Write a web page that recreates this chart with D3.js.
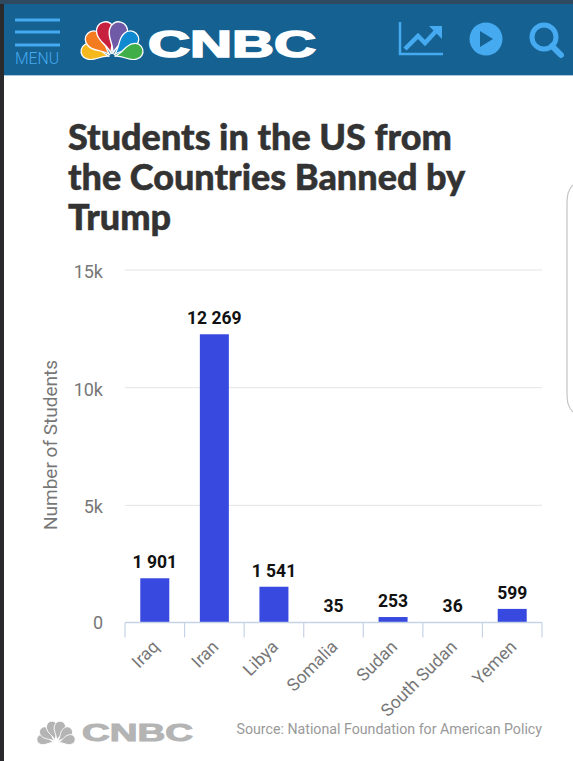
<!DOCTYPE html>
<html><head><meta charset="utf-8">
<script src="https://cdn.jsdelivr.net/npm/d3@7"></script>
<style>html,body{margin:0;padding:0;background:#fff;overflow:hidden}svg{display:block}</style>
</head><body><svg id="c" width="573" height="761"></svg>
<script>
const categories=["Iraq","Iran","Libya","Somalia","Sudan","South Sudan","Yemen"];
const students=[1901,12269,1541,35,253,36,599];
const valueLabels=["1 901","12 269","1 541","35","253","36","599"];
const yTicks=[0,5000,10000,15000];
const titleLines=["Students in the US from","the Countries Banned by","Trump"];
const feathers=[["#f6b91d",-76],["#f47b20",-46],["#c8203f",-14],["#6e5aa6",14],["#0f8ad0",46],["#3fae49",76]];

const svg=d3.select("#c");
const sans="Roboto, sans-serif";
// page chrome
svg.append("rect").attr("width",573).attr("height",761).attr("fill","#fff");
svg.append("rect").attr("width",4).attr("height",761).attr("fill","#2a2a2c");
svg.append("rect").attr("width",573).attr("height",4).attr("fill","#2f4a60");
svg.append("rect").attr("x",4).attr("y",4).attr("width",569).attr("height",71).attr("fill","#156192");
svg.append("rect").attr("x",4).attr("y",75).attr("width",569).attr("height",1).attr("fill","#a9c9d8");
const lb="#45aaf0";
[20,32,45].forEach(y=>svg.append("rect").attr("x",15).attr("y",y-1.5).attr("width",45).attr("height",3).attr("fill",lb));
svg.append("text").attr("x",15).attr("y",64).attr("font-family",sans).attr("font-weight",300).attr("font-size",17).attr("fill",lb).attr("textLength",44).attr("lengthAdjust","spacingAndGlyphs").text("MENU");
// peacock
const feather="M0 -3C-1 -13 -10 -18 -9 -27A9 9 0 0 1 9 -27C10 -18 1 -13 0 -3Z";
const peacock=(g,colorOf,stroke)=>{
  feathers.forEach(([c,a])=>{
    const k=Math.abs(a)>60?0.88:Math.abs(a)>30?0.94:1;
    g.append("path").attr("d",feather)
     .attr("fill",colorOf(c)).attr("stroke",stroke).attr("stroke-width",1.4)
     .attr("transform",`rotate(${a}) scale(${k})`);
  });
};
peacock(svg.append("g").attr("transform","translate(112,57)"),c=>c,"#fff");
svg.append("text").attr("x",148).attr("y",57).attr("font-family","'Liberation Sans',sans-serif").attr("font-weight",700)
  .attr("font-size",36).attr("fill","#fff").attr("stroke","#fff").attr("stroke-width",1.6).attr("textLength",168).attr("lengthAdjust","spacingAndGlyphs").text("CNBC");
// header icons
svg.append("path").attr("d","M400 22V54H443").attr("fill","none").attr("stroke",lb).attr("stroke-width",2.5);
svg.append("path").attr("d","M405 49L418 36L425 43L437 30").attr("fill","none").attr("stroke",lb).attr("stroke-width",4.5);
svg.append("path").attr("d","M429 26H442V39Z").attr("fill",lb);
svg.append("circle").attr("cx",486).attr("cy",39).attr("r",16.5).attr("fill",lb);
svg.append("path").attr("d","M480 31L493 39L480 47Z").attr("fill","#156192");
svg.append("circle").attr("cx",544).attr("cy",37).attr("r",12).attr("fill","none").attr("stroke",lb).attr("stroke-width",5);
svg.append("path").attr("d","M552 46L561 55").attr("stroke",lb).attr("stroke-width",6).attr("stroke-linecap","round");
// side card edge
svg.append("path").attr("d","M573 185C568 190 567 195 567 205V392C567 402 568 407 573 412").attr("fill","none").attr("stroke","#c4c4c4").attr("stroke-width",1.2);
// title
svg.append("g").selectAll("text").data(titleLines).join("text")
  .attr("x",68).attr("y",(d,i)=>150+i*40)
  .attr("font-family","Lato, sans-serif").attr("font-weight",900).attr("font-size",36).attr("fill","#333")
  .attr("stroke","#333").attr("stroke-width",0.5)
  .text(d=>d);
// chart
const x=d3.scaleBand().domain(categories).range([125,542]);
const y=d3.scaleLinear().domain([0,15000]).range([623,270]);
svg.append("g").selectAll("line").data(yTicks.slice(1)).join("line")
  .attr("x1",125).attr("x2",542).attr("y1",d=>y(d)).attr("y2",d=>y(d)).attr("stroke","#e4e4e4");
svg.append("g").selectAll("text").data(yTicks).join("text")
  .attr("x",103).attr("y",d=>y(d)+(d?8:6)).attr("text-anchor","end")
  .attr("font-family",sans).attr("font-size",18).attr("fill","#777")
  .text(d=>d?d/1000+"k":"0");
svg.append("text").attr("transform","translate(57,445) rotate(-90)").attr("text-anchor","middle")
  .attr("font-family",sans).attr("font-size",19).attr("fill","#777").text("Number of Students");
const barW=29;
const bx=d=>x(d)+x.bandwidth()/2-barW/2;
svg.append("g").selectAll("rect").data(categories).join("rect")
  .attr("x",bx).attr("width",barW)
  .attr("y",(d,i)=>y(students[i])).attr("height",(d,i)=>y(0)-y(students[i])).attr("fill","#3749de");
svg.append("g").selectAll("text").data(categories).join("text")
  .attr("x",d=>x(d)+x.bandwidth()/2).attr("y",(d,i)=>y(students[i])-10).attr("text-anchor","middle")
  .attr("font-family",sans).attr("font-weight",700).attr("font-size",17.5).attr("fill","#111")
  .text((d,i)=>valueLabels[i]);
const ax=svg.append("g").attr("transform","translate(0,622.5)");
ax.append("line").attr("x1",125).attr("x2",542).attr("stroke","#c6d3e6").attr("stroke-width",1.5);
const edges=categories.map(d=>x(d)).concat([542]);
ax.selectAll("line.t").data(edges).join("line").attr("class","t").attr("x1",d=>d).attr("x2",d=>d).attr("y1",0).attr("y2",15).attr("stroke","#c6d3e6").attr("stroke-width",1.2);
ax.selectAll("text").data(categories).join("text")
  .attr("transform",d=>`translate(${x(d)+x.bandwidth()/2+1},21) rotate(-45)`)
  .attr("text-anchor","end").attr("font-family",sans).attr("font-size",17.5).attr("fill","#777")
  .attr("dy","0.35em").text(d=>d);
// footer
peacock(svg.append("g").attr("transform","translate(56,743) scale(0.62)"),()=>"#b4b4b4","#fff");
svg.append("text").attr("x",82).attr("y",741).attr("font-family","'Liberation Sans',sans-serif").attr("font-weight",700)
  .attr("font-size",24).attr("fill","#b4b4b4").attr("stroke","#b4b4b4").attr("stroke-width",1).attr("textLength",111).attr("lengthAdjust","spacingAndGlyphs").text("CNBC");
svg.append("text").attr("x",542).attr("y",734).attr("text-anchor","end").attr("font-family",sans).attr("font-size",14.2).attr("fill","#999").text("Source: National Foundation for American Policy");
</script></body></html>
